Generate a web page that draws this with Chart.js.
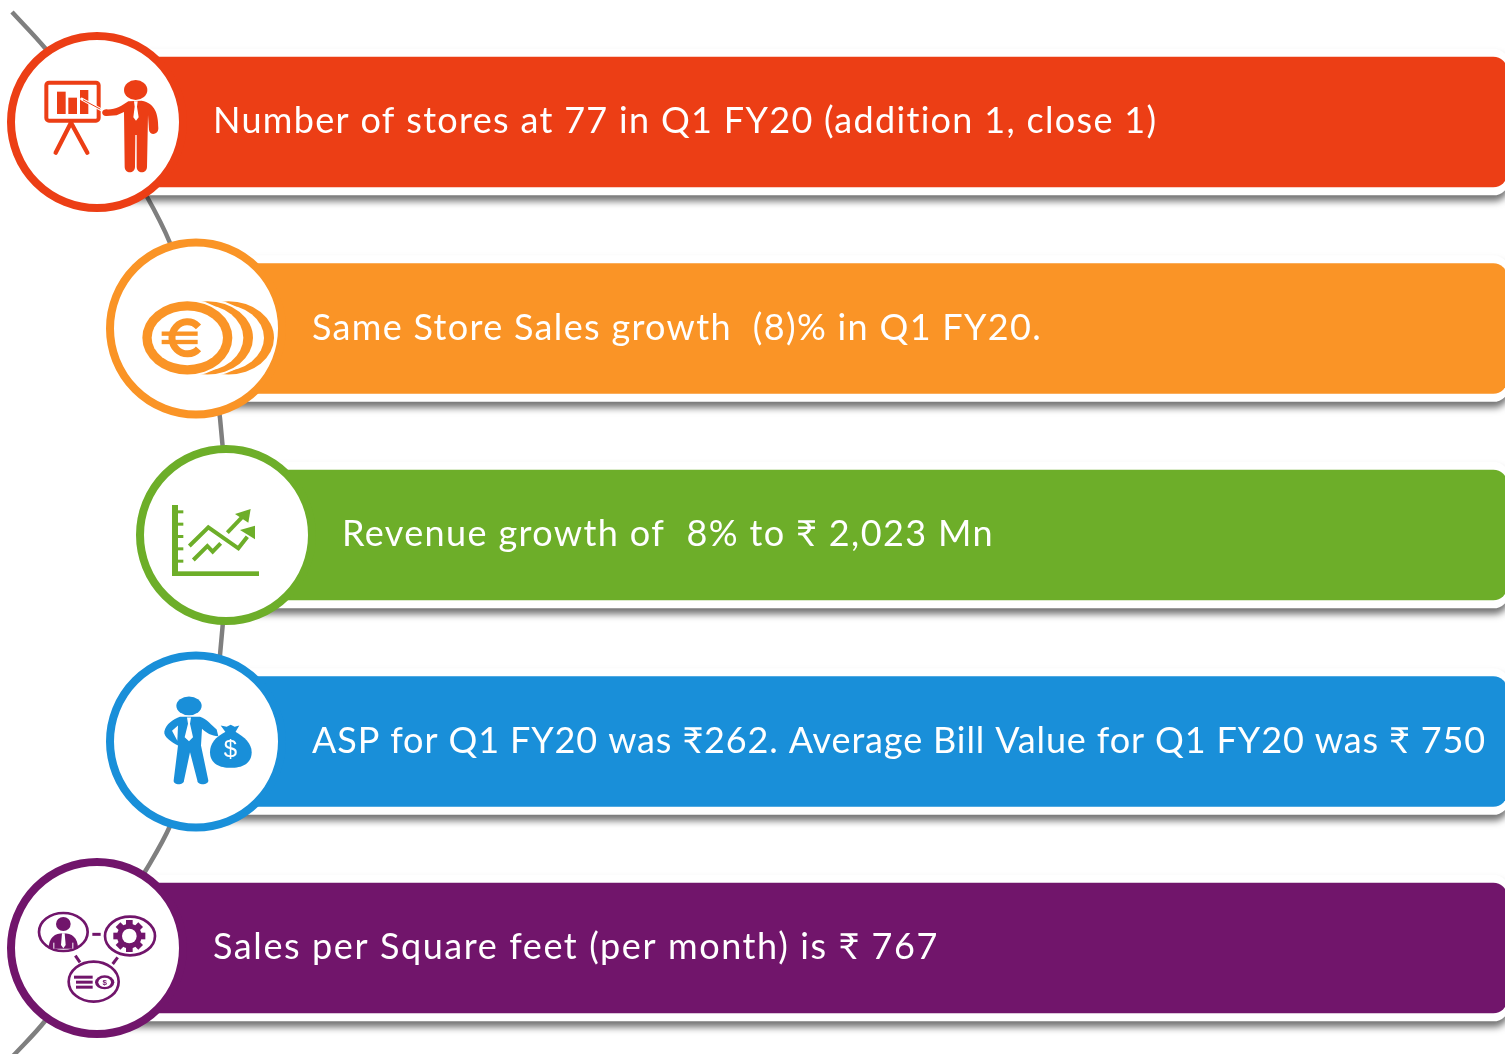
<!DOCTYPE html>
<html>
<head>
<meta charset="utf-8">
<style>
html, body { margin: 0; padding: 0; background: #fff; }
canvas { display: block; }
</style>
<script src="https://cdn.jsdelivr.net/npm/chart.js@4"></script>
</head>
<body>
<canvas id="myChart" width="1505" height="1054"></canvas>
<script>
// the five statements, one per row
const rowLabels = [
	"Number of stores at 77 in Q1 FY20 (addition 1, close 1)",
	"Same Store Sales growth  (8)% in Q1 FY20.",
	"Revenue growth of  8% to ₹ 2,023 Mn",
	"ASP for Q1 FY20 was ₹262. Average Bill Value for Q1 FY20 was ₹ 750",
	"Sales per Square feet (per month) is ₹ 767"
];
// where each row starts on the x axis (the centre of its circle)
const rowStart = [97, 196, 226, 196, 97];
const rowEnd = [1507, 1507, 1507, 1507, 1507];
const rowColors = ['#EC3E15', '#FA9426', '#6DAE29', '#198FD9', '#71156B'];

// grey arc running behind the circles
const arcX = [12, 45, 100, 146, 170, 205, 220, 226, 220, 205, 170, 146, 100, 45, 13];
const arcY = [12, 48, 118, 195, 243, 340, 418, 535, 655, 735, 826, 870, 945, 1021, 1056];

const FONT = '36px Lato, "Noto Sans", "DejaVu Sans", sans-serif';
// text width of each row in the reference, letter spacing is fitted to it
const TEXT_WIDTH = [945, 730, 652, 1174, 726];

function line(ctx, pts, width, color) {
	ctx.beginPath();
	pts.forEach((p, i) => i ? ctx.lineTo(p[0], p[1]) : ctx.moveTo(p[0], p[1]));
	ctx.lineWidth = width;
	if (color) ctx.strokeStyle = color;
	ctx.stroke();
}
function poly(ctx, pts) {
	ctx.beginPath();
	pts.forEach((p, i) => i ? ctx.lineTo(p[0], p[1]) : ctx.moveTo(p[0], p[1]));
	ctx.closePath();
	ctx.fill();
}
function oval(ctx, x, y, rx, ry) {
	ctx.beginPath();
	ctx.ellipse(x, y, rx, ry, 0, 0, Math.PI * 2);
}
function rrect(ctx, x0, y0, x1, y1, r) {
	ctx.beginPath();
	ctx.roundRect(x0, y0, x1 - x0, y1 - y0, r);
}

// icons are drawn at 3x, with the circle centre moved to the origin
const icons = [
	// presenter with a board
	function(ctx, c) {
		ctx.translate(-291, -366);
		ctx.lineCap = 'round';
		ctx.lineJoin = 'round';
		rrect(ctx, 139, 248, 296, 362, 8);
		ctx.lineWidth = 12;
		ctx.stroke();
		ctx.fillRect(171, 275, 26, 67);
		ctx.fillRect(205, 293, 26, 49);
		ctx.fillRect(240, 270, 25, 72);
		line(ctx, [[213, 368], [167, 458]], 13);
		line(ctx, [[213, 368], [262, 458]], 13);
		line(ctx, [[245, 297], [305, 330]], 9, '#fff');
		line(ctx, [[250, 300], [300, 327]], 3, c);
		oval(ctx, 407, 270, 35, 30);
		ctx.fill();
		ctx.beginPath();
		ctx.moveTo(385, 304);
		ctx.bezierCurveTo(365, 318, 345, 330, 318, 328);
		ctx.bezierCurveTo(300, 330, 305, 350, 320, 348);
		ctx.lineTo(350, 346);
		ctx.lineTo(372, 336);
		ctx.lineTo(374, 500);
		ctx.bezierCurveTo(374, 522, 405, 522, 405, 500);
		ctx.lineTo(406, 405);
		ctx.lineTo(410, 405);
		ctx.lineTo(410, 500);
		ctx.bezierCurveTo(410, 522, 441, 522, 441, 500);
		ctx.lineTo(444, 345);
		ctx.lineTo(447, 390);
		ctx.bezierCurveTo(450, 408, 475, 405, 475, 385);
		ctx.bezierCurveTo(475, 340, 465, 310, 425, 302);
		ctx.closePath();
		ctx.fill();
		ctx.fillStyle = '#fff';
		poly(ctx, [[402, 304], [413, 304], [411, 320], [416, 352], [408, 362], [400, 352], [404, 320]]);
	},
	// stack of euro coins
	function(ctx, c) {
		ctx.translate(-288, -294);
		oval(ctx, 385, 322, 137, 110);
		ctx.fill();
		ctx.fillStyle = '#fff';
		oval(ctx, 366, 322, 126, 100);
		ctx.fill();
		oval(ctx, 322, 322, 143, 116);
		ctx.fill();
		ctx.fillStyle = c;
		oval(ctx, 322, 322, 137, 110);
		ctx.fill();
		ctx.fillStyle = '#fff';
		oval(ctx, 305, 322, 125, 100);
		ctx.fill();
		oval(ctx, 262, 322, 141, 116);
		ctx.fill();
		ctx.fillStyle = c;
		oval(ctx, 262, 322, 135, 110);
		ctx.fill();
		ctx.fillStyle = '#fff';
		oval(ctx, 262, 322, 107, 82);
		ctx.fill();
		// euro sign
		ctx.fillStyle = c;
		ctx.beginPath();
		ctx.ellipse(262, 322, 46, 48, 0, Math.PI * 0.24, Math.PI * 1.76);
		ctx.lineWidth = 21;
		ctx.stroke();
		ctx.fillRect(185, 303, 108, 13);
		ctx.fillRect(185, 328, 108, 13);
	},
	// rising arrows on a plot
	function(ctx, c) {
		ctx.translate(-288, -285);
		ctx.fillRect(126, 195, 18, 213);
		ctx.fillRect(126, 394, 261, 14);
		[215, 252, 289, 326, 363].forEach(y => ctx.fillRect(144, y - 4, 16, 9));
		line(ctx, [[178, 318], [235, 262], [325, 325], [352, 290]], 12);
		poly(ctx, [[375, 257], [330, 270], [375, 298]]);
		line(ctx, [[292, 278], [338, 230]], 12);
		poly(ctx, [[362, 207], [315, 222], [355, 248]]);
		line(ctx, [[190, 360], [232, 318], [248, 335], [272, 310]], 12);
	},
	// man holding a money bag
	function(ctx, c) {
		ctx.translate(-288, -288);
		oval(ctx, 267, 181, 38, 28);
		ctx.fill();
		ctx.beginPath();
		ctx.moveTo(240, 214);
		ctx.lineTo(300, 214);
		ctx.bezierCurveTo(320, 220, 335, 240, 350, 252);
		ctx.lineTo(355, 272);
		ctx.bezierCurveTo(335, 272, 318, 262, 306, 250);
		ctx.lineTo(303, 300);
		ctx.lineTo(325, 405);
		ctx.bezierCurveTo(325, 420, 292, 420, 292, 405);
		ctx.lineTo(270, 320);
		ctx.lineTo(252, 405);
		ctx.bezierCurveTo(252, 420, 220, 420, 221, 405);
		ctx.lineTo(234, 300);
		ctx.bezierCurveTo(215, 290, 190, 275, 193, 258);
		ctx.bezierCurveTo(198, 235, 220, 222, 240, 214);
		ctx.closePath();
		ctx.fill();
		ctx.fillStyle = '#fff';
		poly(ctx, [[216, 256], [234, 240], [232, 286]]);
		poly(ctx, [[261, 216], [273, 216], [270, 235], [279, 275], [267, 287], [254, 275], [264, 235]]);
		ctx.fillStyle = c;
		poly(ctx, [[362, 240], [380, 244], [392, 238], [404, 244], [418, 240], [405, 262], [378, 262]]);
		ctx.beginPath();
		ctx.moveTo(378, 258);
		ctx.bezierCurveTo(345, 275, 330, 295, 330, 320);
		ctx.bezierCurveTo(330, 355, 360, 367, 392, 367);
		ctx.bezierCurveTo(425, 367, 455, 355, 455, 320);
		ctx.bezierCurveTo(455, 295, 435, 275, 405, 258);
		ctx.closePath();
		ctx.fill();
		ctx.fillStyle = '#fff';
		ctx.font = '72px "Liberation Sans", sans-serif';
		ctx.textAlign = 'center';
		ctx.textBaseline = 'middle';
		ctx.fillText('$', 391, 314);
	},
	// person, gear and money linked together
	function(ctx, c) {
		ctx.translate(-291, -294);
		ctx.lineWidth = 8;
		oval(ctx, 190, 246, 73, 57);
		ctx.stroke();
		oval(ctx, 390, 258, 75, 58);
		ctx.stroke();
		oval(ctx, 281, 395, 75, 60);
		ctx.stroke();
		line(ctx, [[277, 253], [302, 253]], 9);
		line(ctx, [[226, 317], [240, 337]], 9);
		line(ctx, [[353, 322], [338, 342]], 9);
		// person
		oval(ctx, 190, 222, 22, 21);
		ctx.fill();
		ctx.beginPath();
		ctx.moveTo(146, 296);
		ctx.bezierCurveTo(146, 262, 165, 250, 190, 250);
		ctx.bezierCurveTo(215, 250, 234, 262, 234, 296);
		ctx.closePath();
		ctx.fill();
		ctx.fillStyle = '#fff';
		poly(ctx, [[186, 250], [194, 250], [197, 285], [190, 295], [183, 285]]);
		ctx.fillRect(160, 278, 3, 18);
		ctx.fillRect(217, 278, 3, 18);
		ctx.fillStyle = c;
		// gear
		ctx.save();
		ctx.translate(388, 258);
		for (let i = 0; i < 8; i++) {
			ctx.fillRect(-10, -48, 20, 20);
			ctx.rotate(Math.PI / 4);
		}
		ctx.restore();
		oval(ctx, 388, 258, 37, 37);
		ctx.fill();
		ctx.fillStyle = '#fff';
		oval(ctx, 388, 258, 22, 22);
		ctx.fill();
		ctx.fillStyle = c;
		// notes and coin
		ctx.fillRect(222, 377, 56, 9);
		ctx.fillRect(228, 392, 50, 9);
		ctx.fillRect(228, 407, 50, 9);
		oval(ctx, 314, 397, 29, 21);
		ctx.fill();
		ctx.fillStyle = '#fff';
		oval(ctx, 314, 397, 19, 14);
		ctx.fill();
		ctx.fillStyle = c;
		ctx.font = 'bold 24px "Liberation Sans", sans-serif';
		ctx.textAlign = 'center';
		ctx.textBaseline = 'middle';
		ctx.fillText('$', 314, 398);
	}
];

// soft shadow under the white cards
const cardShadow = {
	id: 'cardShadow',
	beforeDatasetDraw(chart, args) {
		if (chart.data.datasets[args.index].label === 'card') {
			const ctx = chart.ctx;
			ctx.save();
			ctx.shadowColor = 'rgba(0, 0, 0, 0.55)';
			ctx.shadowBlur = 7;
			ctx.shadowOffsetY = 6;
		}
	},
	afterDatasetDraw(chart, args) {
		if (chart.data.datasets[args.index].label === 'card') {
			chart.ctx.restore();
		}
	}
};

// statement text and the icon inside each circle
const rowDecor = {
	id: 'rowDecor',
	afterDatasetsDraw(chart) {
		const ctx = chart.ctx;
		const x = chart.scales.x;
		const y = chart.scales.y;
		rowLabels.forEach((label, i) => {
			const px = x.getPixelForValue(rowStart[i]);
			const py = y.getPixelForValue(label);
			ctx.save();
			ctx.fillStyle = '#fff';
			ctx.font = FONT;
			ctx.letterSpacing = '0px';
			const natural = ctx.measureText(label).width;
			ctx.letterSpacing = ((TEXT_WIDTH[i] - natural) / label.length).toFixed(3) + 'px';
			ctx.textAlign = 'left';
			ctx.textBaseline = 'middle';
			ctx.fillText(label, px + 116, py - 0.5);
			ctx.restore();

			ctx.save();
			ctx.translate(px, py);
			ctx.scale(1 / 3, 1 / 3);
			ctx.fillStyle = rowColors[i];
			ctx.strokeStyle = rowColors[i];
			icons[i](ctx, rowColors[i]);
			ctx.restore();
		});
	}
};

const ctx = document.getElementById('myChart').getContext('2d');
const chart = new Chart(ctx, {
	type: 'bar',
	data: {
		labels: rowLabels,
		datasets: [
			{
				type: 'scatter',
				label: 'arc',
				indexAxis: 'x',
				data: arcX.map((v, i) => ({ x: v, y: arcY[i] })),
				xAxisID: 'x',
				yAxisID: 'yArc',
				showLine: true,
				tension: 0.35,
				borderColor: '#7F7F7F',
				borderWidth: 4.5,
				pointRadius: 0,
				clip: false,
				order: 4
			},
			{
				label: 'card',
				data: rowStart.map((v, i) => [v, rowEnd[i] + 2]),
				backgroundColor: '#fff',
				barThickness: 146,
				grouped: false,
				borderRadius: { topRight: 16, bottomRight: 16 },
				borderSkipped: false,
				clip: false,
				order: 3
			},
			{
				label: 'rows',
				data: rowStart.map((v, i) => [v, rowEnd[i]]),
				backgroundColor: rowColors,
				barThickness: 130,
				grouped: false,
				borderRadius: { topRight: 14, bottomRight: 14 },
				borderSkipped: false,
				clip: false,
				order: 2
			},
			{
				type: 'scatter',
				label: 'circles',
				data: rowStart.map((v, i) => ({ x: v, y: rowLabels[i] })),
				xAxisID: 'x',
				yAxisID: 'y',
				pointRadius: 86,
				pointHoverRadius: 86,
				pointBorderWidth: 8,
				pointBackgroundColor: '#fff',
				pointBorderColor: rowColors,
				clip: false,
				order: 1
			}
		]
	},
	plugins: [cardShadow, rowDecor],
	options: {
		indexAxis: 'y',
		responsive: false,
		animation: false,
		devicePixelRatio: 1,
		layout: { autoPadding: false, padding: { left: 0, right: 0, top: 18.75, bottom: 2.75 } },
		plugins: { legend: { display: false }, tooltip: { enabled: false } },
		scales: {
			x: { type: 'linear', min: 0, max: 1505, display: false },
			y: { type: 'category', labels: rowLabels, offset: true, display: false },
			yArc: { type: 'linear', min: 18.75, max: 1051.25, offset: false, reverse: true, display: false }
		}
	}
});
</script>
</body>
</html>
